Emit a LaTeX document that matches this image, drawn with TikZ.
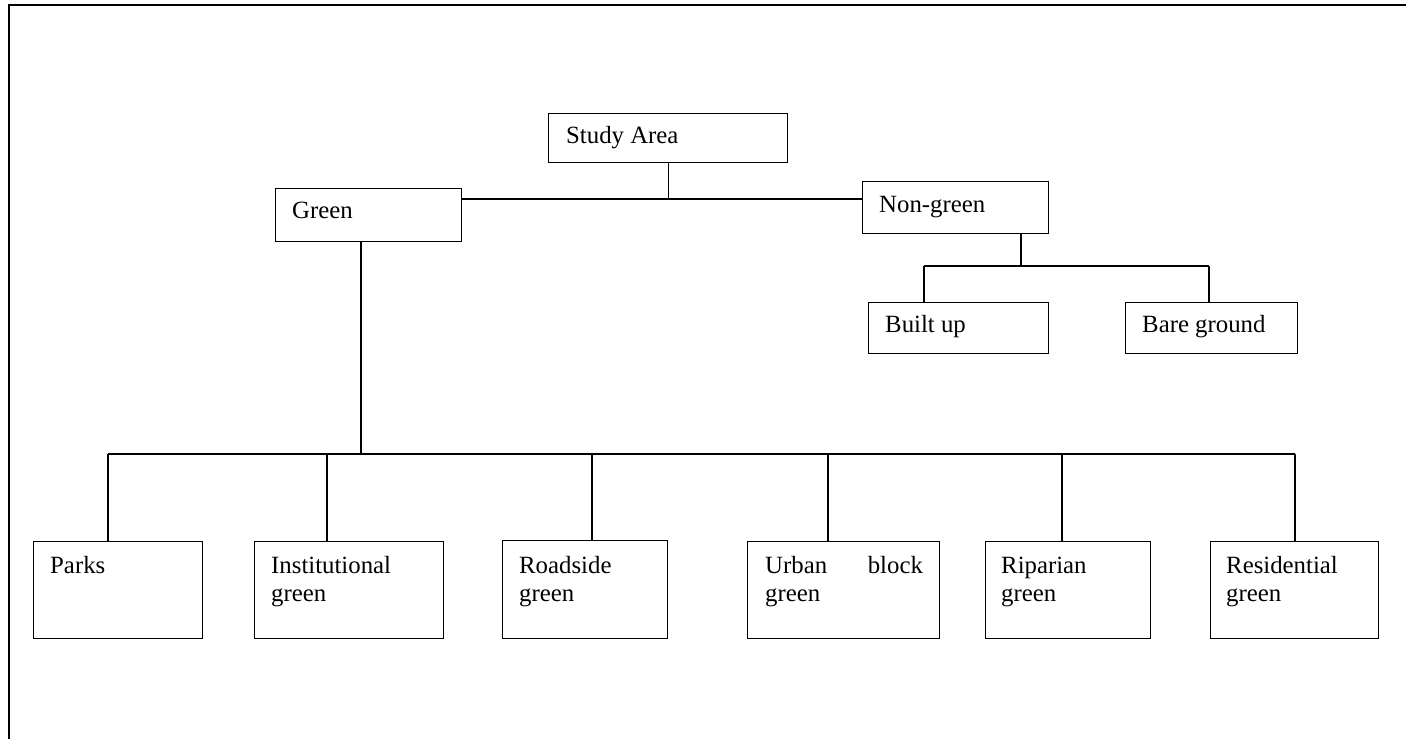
\documentclass[tikz,border=0pt]{standalone}
\usepackage{fontspec}
\setmainfont{Liberation Serif}
\usetikzlibrary{calc}
\begin{document}
\begin{tikzpicture}[x=1pt,y=-1pt,
  box/.style={draw,line width=1.1pt,rectangle,inner sep=0pt,anchor=north west},
  lbl/.style={inner sep=0pt,anchor=base west,font=\fontsize{24.8}{28}\selectfont},
  link/.style={line width=1.1pt}]
\useasboundingbox (0,0) rectangle (1406,739);
% page frame
\draw[line width=1.8pt] (9,760) -- (9,5) -- (1430,5);

% boxes
\node[box,minimum width=239pt,minimum height=49pt] (study)    at (548,113) {};
\node[box,minimum width=186pt,minimum height=53pt] (green)    at (275,188) {};
\node[box,minimum width=186pt,minimum height=52pt] (nongreen) at (862,181) {};
\node[box,minimum width=180pt,minimum height=51pt] (builtup)  at (868,302) {};
\node[box,minimum width=172pt,minimum height=51pt] (bare)     at (1125,302) {};
\node[box,minimum width=169pt,minimum height=97pt] (parks)    at (33,541) {};
\node[box,minimum width=189pt,minimum height=97pt] (inst)     at (254,541) {};
\node[box,minimum width=165pt,minimum height=98pt] (road)     at (502,540) {};
\node[box,minimum width=192pt,minimum height=97pt] (urban)    at (747,541) {};
\node[box,minimum width=165pt,minimum height=97pt] (ripar)    at (985,541) {};
\node[box,minimum width=168pt,minimum height=97pt] (resid)    at (1210,541) {};

% labels
\node[lbl] (studyT)    at ($(study.north west)+(18,30)$) {Study Area};
\node[lbl] (greenT)    at ($(green.north west)+(17,30)$) {Green};
\node[lbl] (nongreenT) at ($(nongreen.north west)+(17,31)$) {Non-green};
\node[lbl] (builtupT)  at ($(builtup.north west)+(17,30)$) {Built up};
\node[lbl] (bareT)     at ($(bare.north west)+(17,30)$) {Bare ground};
\node[lbl] (parksT)    at ($(parks.north west)+(17,32)$) {Parks};
\node[lbl] (instT)     at ($(inst.north west)+(17,32)$) {\begin{tabular}[t]{@{}l@{}}Institutional\\green\end{tabular}};
\node[lbl] (roadT)     at ($(road.north west)+(17,33)$) {\begin{tabular}[t]{@{}l@{}}Roadside\\green\end{tabular}};
\node[lbl] (urbanT)    at ($(urban.north west)+(18,32)$) {\begin{tabular}[t]{@{}l@{}}Urban\\green\end{tabular}};
\node[lbl,anchor=base east] (urbanB) at ($(urban.north east)+(-17,32)$) {block};
\node[lbl] (riparT)    at ($(ripar.north west)+(16,32)$) {\begin{tabular}[t]{@{}l@{}}Riparian\\green\end{tabular}};
\node[lbl] (residT)    at ($(resid.north west)+(16,32)$) {\begin{tabular}[t]{@{}l@{}}Residential\\green\end{tabular}};

% junctions
\coordinate (j1) at (study.south |- 0,199);
\coordinate (j2) at (361,454);
\coordinate (j3) at (1021,266);

% study area to green / non-green
\draw[link] (study.south) -- (j1);
\draw[link] (green.east |- j1) -- (nongreen.west |- j1);

% green to its classes
\draw[link] (green.south -| j2) -- (j2);
\draw[link] (108,454) -- (1295,454);
\foreach \b/\xx in {parks/108,inst/327,road/592,urban/828,ripar/1062,resid/1295}
  \draw[link] (\xx,454) -- (\b.north -| \xx,454);

% non-green to its classes
\draw[link] (nongreen.south -| j3) -- (j3);
\draw[link] (924,266) -- (1209,266);
\foreach \b/\xx in {builtup/924,bare/1209}
  \draw[link] (\xx,266) -- (\b.north -| \xx,266);
\end{tikzpicture}
\end{document}
